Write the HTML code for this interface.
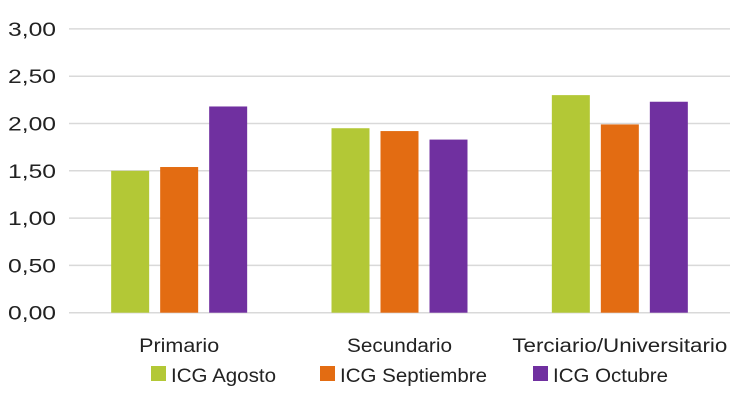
<!DOCTYPE html>
<html><head><meta charset="utf-8"><style>
body{margin:0;background:#fff;width:730px;height:411px;overflow:hidden}
svg{font-family:"Liberation Sans",sans-serif}
</style></head><body>
<svg id="chart" width="730" height="411" xmlns="http://www.w3.org/2000/svg"></svg>
<script>
const categories=["Primario","Secundario","Terciario/Universitario"];
const seriesNames=["ICG Agosto","ICG Septiembre","ICG Octubre"];
const agosto=[1.50,1.95,2.30];
const septiembre=[1.54,1.92,1.99];
const octubre=[2.18,1.83,2.23];
const yTicks=[0,0.5,1,1.5,2,2.5,3];
const yTickLabels=["0,00","0,50","1,00","1,50","2,00","2,50","3,00"];
const colors=["#b3c836","#e36c12","#7030a0"];
const catLabelW=[80,105,215];
const legLabelW=[105,147,115];
const svg=document.getElementById('chart');
const NS="http://www.w3.org/2000/svg";
const x0=69,x1=730,yBase=312.7,yTop=28.9;
const y=v=>yBase-(v/3)*(yBase-yTop);
const catW=(x1-x0)/3;
const bw=38,step=49;
function mk(t,a){const e=document.createElementNS(NS,t);for(const k in a)e.setAttribute(k,a[k]);svg.appendChild(e);return e;}
yTicks.forEach((t,i)=>{
 const l=mk('line',{x1:x0,x2:x1,y1:y(t),y2:y(t),stroke:'#d9d9d9','stroke-width':1.5});
 
 
 const tx=mk('text',{x:56,y:y(t)+7,'text-anchor':'end','font-size':19,fill:'#222',textLength:48,lengthAdjust:'spacingAndGlyphs'});
 tx.textContent=yTickLabels[i];
 
 
});
const series=[agosto,septiembre,octubre];
categories.forEach((c,ci)=>{
 const cx=x0+catW*(ci+0.5);
 series.forEach((s,si)=>{
  const bx=cx+(si-1)*step-bw/2;
  const r=mk('rect',{x:bx,y:y(s[ci]),width:bw,height:yBase-y(s[ci]),fill:colors[si]});
  
  
 });
 const t=mk('text',{x:cx,y:352,'text-anchor':'middle','font-size':19,fill:'#222',textLength:catLabelW[ci],lengthAdjust:'spacingAndGlyphs'});
 t.textContent=c;
 
 
});
const legX=[151,320,533];
seriesNames.forEach((n,i)=>{
 const r=mk('rect',{x:legX[i],y:366,width:15,height:15,fill:colors[i]});
 
 
 const t=mk('text',{x:legX[i]+20,y:382,'font-size':19,fill:'#222',textLength:legLabelW[i],lengthAdjust:'spacingAndGlyphs'});
 t.textContent=n;
 
 
});
</script>
</body></html>
